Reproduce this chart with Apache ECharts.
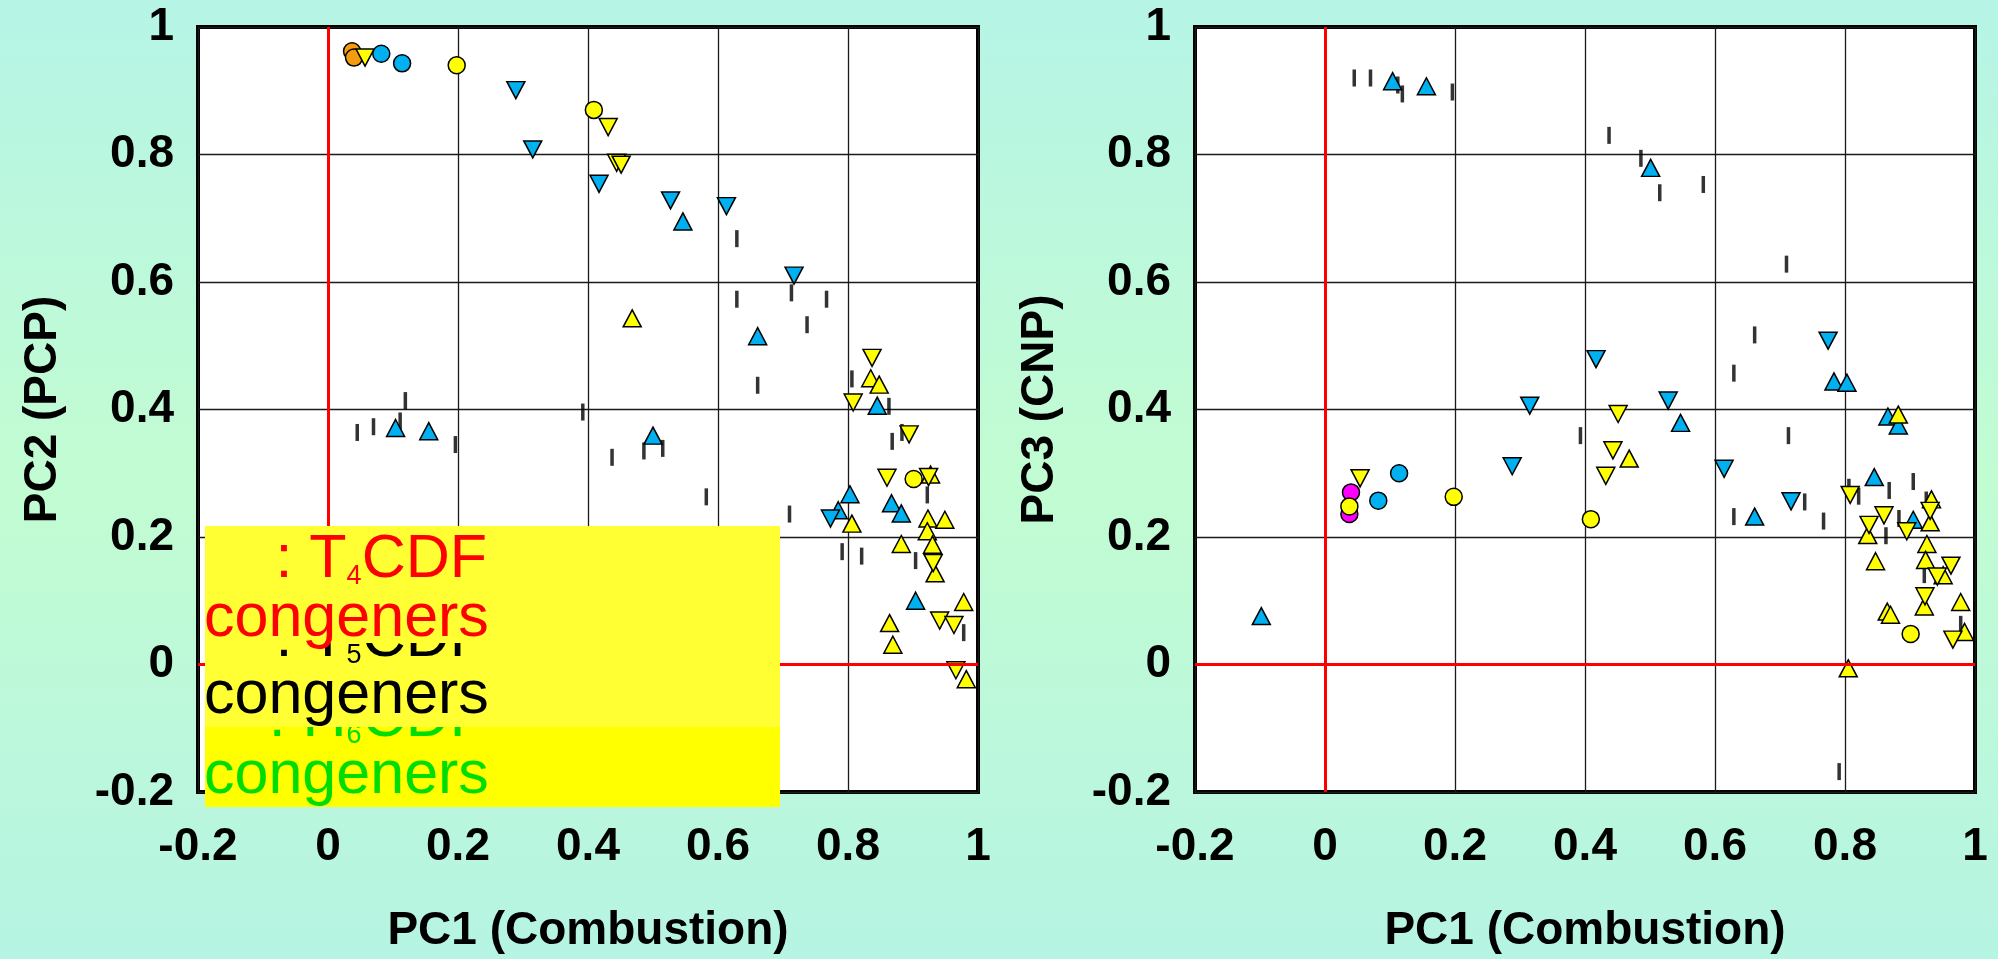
<!DOCTYPE html>
<html>
<head>
<meta charset="utf-8">
<script src="https://cdn.jsdelivr.net/npm/echarts@6/dist/echarts.min.js"></script>
<style>
  html, body { margin: 0; padding: 0; background: #bdf8dc; }
  #chart { width: 1998px; height: 959px; }
</style>
</head>
<body>
<div id="chart"></div>
<script>
// PC1 vs PC2 (left panel)
var orangeCircleL = [[0.037, 0.962], [0.040, 0.952]];
var blueCircleL = [[0.082, 0.958], [0.114, 0.943]];
var yellowCircleL = [[0.198, 0.940], [0.409, 0.870], [0.901, 0.291]];
var blueUpL = [[0.546, 0.695], [0.661, 0.515], [0.104, 0.371], [0.155, 0.366], [0.500, 0.359],
    [0.845, 0.406], [0.803, 0.267], [0.785, 0.242], [0.867, 0.253], [0.882, 0.237], [0.904, 0.100]];
var blueDownL = [[0.289, 0.901], [0.315, 0.808], [0.417, 0.754], [0.527, 0.728], [0.613, 0.719],
    [0.717, 0.610], [0.773, 0.229]];
var yellowUpL = [[0.468, 0.543], [0.835, 0.449], [0.848, 0.439], [0.927, 0.298], [0.806, 0.221],
    [0.923, 0.229], [0.949, 0.227], [0.922, 0.209], [0.882, 0.189], [0.930, 0.188], [0.934, 0.143],
    [0.978, 0.098], [0.864, 0.065], [0.869, 0.031], [0.982, -0.023]];
var yellowDownL = [[0.057, 0.952], [0.431, 0.843], [0.444, 0.787], [0.451, 0.784], [0.837, 0.481],
    [0.808, 0.411], [0.894, 0.361], [0.860, 0.293], [0.924, 0.294], [0.931, 0.159], [0.941, 0.069],
    [0.963, 0.062], [0.966, -0.009]];
var barsL = [[0.119, 0.414], [0.045, 0.364], [0.070, 0.373], [0.111, 0.382], [0.196, 0.345],
    [0.392, 0.396], [0.486, 0.335], [0.515, 0.339], [0.437, 0.325], [0.629, 0.668], [0.629, 0.573],
    [0.713, 0.583], [0.767, 0.573], [0.737, 0.533], [0.661, 0.438], [0.806, 0.448], [0.582, 0.263],
    [0.710, 0.236], [0.863, 0.405], [0.883, 0.364], [0.868, 0.350], [0.922, 0.266], [0.791, 0.177],
    [0.821, 0.170], [0.904, 0.163], [0.978, 0.050]];

// PC1 vs PC3 (right panel)
var magentaCircleR = [[0.040, 0.270], [0.0375, 0.236]];
var blueCircleR = [[0.114, 0.300], [0.082, 0.257]];
var yellowCircleR = [[0.198, 0.263], [0.0375, 0.248], [0.409, 0.228], [0.901, 0.048]];
var blueUpR = [[0.104, 0.915], [0.156, 0.907], [0.501, 0.779], [0.783, 0.444], [0.803, 0.442],
    [0.547, 0.379], [0.661, 0.232], [0.866, 0.389], [0.882, 0.375], [0.845, 0.294], [0.905, 0.227],
    [-0.098, 0.076]];
var blueDownR = [[0.417, 0.479], [0.774, 0.508], [0.315, 0.406], [0.528, 0.414], [0.288, 0.311],
    [0.614, 0.307], [0.717, 0.256]];
var yellowUpR = [[0.468, 0.323], [0.882, 0.392], [0.933, 0.259], [0.931, 0.223], [0.835, 0.203],
    [0.926, 0.189], [0.847, 0.162], [0.924, 0.164], [0.951, 0.140], [0.922, 0.091], [0.978, 0.098],
    [0.865, 0.083], [0.870, 0.078], [0.984, 0.051], [0.805, -0.006]];
var yellowDownR = [[0.054, 0.292], [0.451, 0.393], [0.443, 0.336], [0.432, 0.296], [0.808, 0.266],
    [0.931, 0.241], [0.860, 0.234], [0.837, 0.219], [0.895, 0.209], [0.963, 0.155], [0.942, 0.138],
    [0.923, 0.107], [0.966, 0.039]];
var barsR = [[0.045, 0.920], [0.070, 0.920], [0.112, 0.909], [0.119, 0.895], [0.196, 0.898],
    [0.437, 0.830], [0.486, 0.794], [0.515, 0.740], [0.582, 0.753], [0.710, 0.628], [0.661, 0.517],
    [0.629, 0.457], [0.393, 0.359], [0.713, 0.359], [0.738, 0.255], [0.629, 0.232], [0.767, 0.225],
    [0.806, 0.278], [0.821, 0.264], [0.868, 0.273], [0.905, 0.287], [0.925, 0.258], [0.883, 0.229],
    [0.863, 0.202], [0.922, 0.141], [0.978, 0.063], [0.791, -0.168]];

var axisTitles = ['PC1 (Combustion)', 'PC2 (PCP)', 'PC3 (CNP)'];
var legendRows = [
    {head: ': T', sub: '4', tail: 'CDF', color: '#ff0000'},
    {head: ': T', sub: '5', tail: 'CDF', color: '#000000'},
    {head: ': H', sub: '6', tail: 'CDF', color: '#00dd00'}
];

var BLUE = '#00b0f0', YELLOW = '#ffff00', ORANGE = '#f59b10', MAGENTA = '#ff00ff';
var font = 'Liberation Sans, Arial, sans-serif';

function marker(data, gi, symbol, color, rotate) {
    var isTri = symbol === 'triangle';
    return {
        type: 'scatter',
        xAxisIndex: gi,
        yAxisIndex: gi,
        data: data,
        symbol: symbol,
        symbolSize: isTri ? [18, 17] : 17,
        symbolRotate: rotate || 0,
        itemStyle: {color: color, borderColor: '#000', borderWidth: 1.5, opacity: 1},
        silent: true
    };
}

function bars(data, gi) {
    return {
        type: 'scatter',
        xAxisIndex: gi,
        yAxisIndex: gi,
        data: data,
        symbol: 'rect',
        symbolSize: [3.5, 17],
        itemStyle: {color: '#000'},
        silent: true,
        markLine: {
            silent: true,
            symbol: 'none',
            label: {show: false},
            lineStyle: {color: '#ff0000', width: 3, type: 'solid'},
            data: [{xAxis: 0}, {yAxis: 0}]
        }
    };
}

function xAx(gi) {
    return {
        gridIndex: gi, type: 'value', min: -0.2, max: 1, interval: 0.2,
        name: axisTitles[0], nameLocation: 'middle', nameGap: 116,
        nameTextStyle: {fontFamily: font, fontWeight: 'bold', fontSize: 46, color: '#000'},
        axisLine: {show: false}, axisTick: {show: false},
        axisLabel: {fontFamily: font, fontWeight: 'bold', fontSize: 46, color: '#000', margin: 32},
        splitLine: {lineStyle: {color: '#1a1a1a', width: 1.3}}
    };
}

function yAx(gi, title) {
    return {
        gridIndex: gi, type: 'value', min: -0.2, max: 1, interval: 0.2,
        name: title, nameLocation: 'middle', nameGap: 132,
        nameTextStyle: {fontFamily: font, fontWeight: 'bold', fontSize: 46, color: '#000'},
        axisLine: {show: false}, axisTick: {show: false},
        axisLabel: {fontFamily: font, fontWeight: 'bold', fontSize: 46, color: '#000', margin: 24},
        splitLine: {lineStyle: {color: '#1a1a1a', width: 1.3}}
    };
}

// legend-like overlay box (drawn bottom-up so upper rows hide the rows below)
var boxes = [
    {top: 727, bottom: 807, fill: '#ffff00', base1: 740, base2: 797},
    {top: 643, bottom: 727, fill: '#ffff33', base1: 660, base2: 717},
    {top: 526, bottom: 643, fill: '#ffff33', base1: 581, base2: 640}
];
var graphics = [];
for (var k = 0; k < 3; k++) {
    var b = boxes[k];
    var row = legendRows[2 - k];
    graphics.push({
        type: 'rect', z: 100 + k * 3,
        shape: {x: 205, y: b.top, width: 575, height: b.bottom - b.top},
        style: {fill: b.fill}
    });
    graphics.push({
        type: 'text', z: 101 + k * 3, x: 487, y: b.base1 - 21,
        style: {
            text: '{m|' + row.head + '}{s|' + row.sub + '}{m|' + row.tail + '}',
            align: 'right', verticalAlign: 'middle',
            rich: {
                m: {fontFamily: font, fontSize: 61, fill: row.color},
                s: {fontFamily: font, fontSize: 27, fill: row.color, verticalAlign: 'bottom'}
            }
        }
    });
    graphics.push({
        type: 'text', z: 102 + k * 3, x: 204, y: b.base2 - 21,
        style: {
            text: 'congeners', align: 'left', verticalAlign: 'middle',
            fontFamily: font, fontSize: 61, fill: row.color
        }
    });
}

var option = {
    animation: false,
    backgroundColor: new echarts.graphic.LinearGradient(0, 0, 0, 1, [
        {offset: 0, color: '#b6f4e6'},
        {offset: 0.5, color: '#c2fcd2'},
        {offset: 1, color: '#b6f4e3'}
    ]),
    grid: [
        {left: 198, top: 27, width: 780, height: 768, show: true, backgroundColor: '#fff',
            borderColor: '#000', borderWidth: 4},
        {left: 1195, top: 27, width: 780, height: 768, show: true, backgroundColor: '#fff',
            borderColor: '#000', borderWidth: 4}
    ],
    xAxis: [xAx(0), xAx(1)],
    yAxis: [yAx(0, axisTitles[1]), yAx(1, axisTitles[2])],
    series: [
        bars(barsL, 0),
        marker(orangeCircleL, 0, 'circle', ORANGE),
        marker(blueCircleL, 0, 'circle', BLUE),
        marker(yellowCircleL, 0, 'circle', YELLOW),
        marker(blueUpL, 0, 'triangle', BLUE),
        marker(blueDownL, 0, 'triangle', BLUE, 180),
        marker(yellowUpL, 0, 'triangle', YELLOW),
        marker(yellowDownL, 0, 'triangle', YELLOW, 180),
        bars(barsR, 1),
        marker(magentaCircleR, 1, 'circle', MAGENTA),
        marker(blueCircleR, 1, 'circle', BLUE),
        marker(yellowCircleR, 1, 'circle', YELLOW),
        marker(blueUpR, 1, 'triangle', BLUE),
        marker(blueDownR, 1, 'triangle', BLUE, 180),
        marker(yellowUpR, 1, 'triangle', YELLOW),
        marker(yellowDownR, 1, 'triangle', YELLOW, 180)
    ],
    graphic: graphics
};

var chart = echarts.init(document.getElementById('chart'));
chart.setOption(option);
</script>
</body>
</html>
